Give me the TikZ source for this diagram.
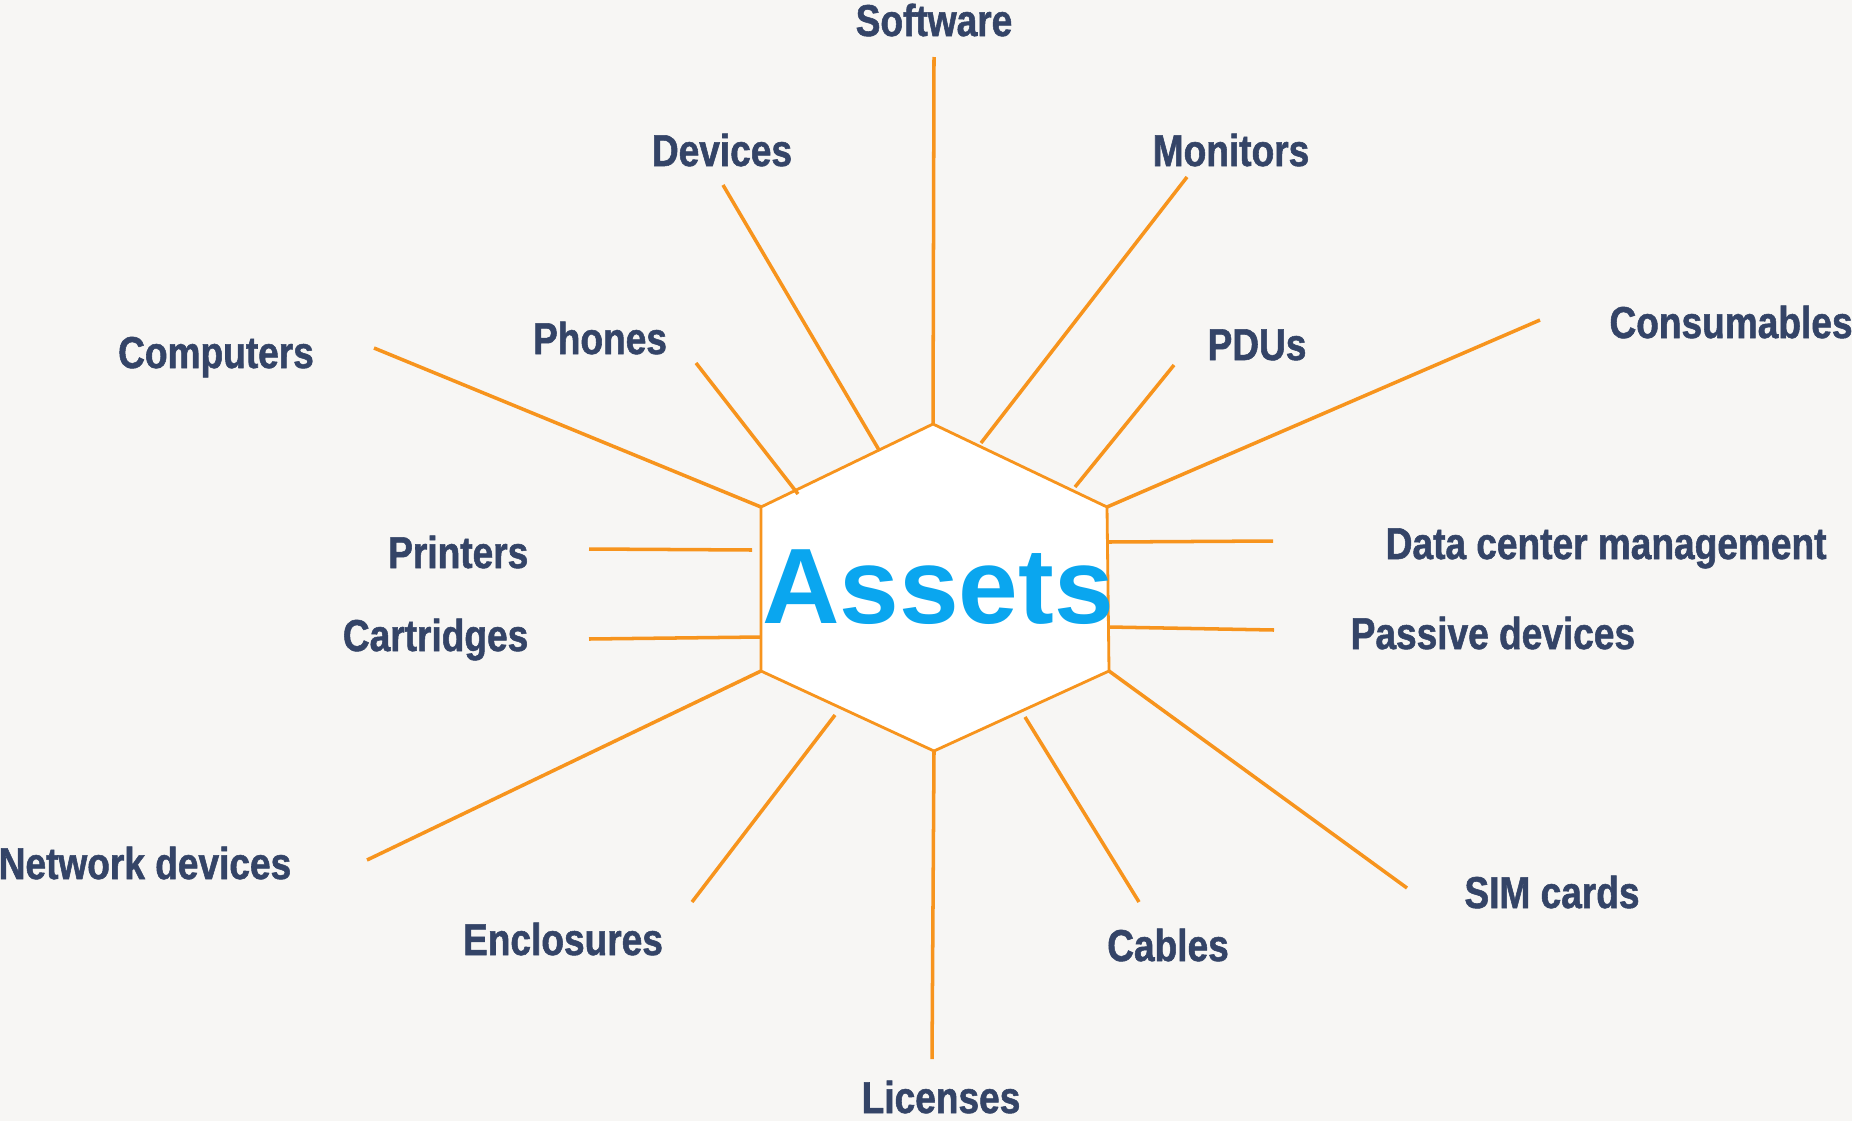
\documentclass[tikz,border=0pt]{standalone}
\usepackage{fontspec}
\setmainfont{Liberation Sans}
\newfontfamily\labelfont{Liberation Sans}[FakeStretch=0.83, BoldFeatures={FakeBold=1.2}]
\definecolor{spokeorange}{RGB}{247,148,29}
\definecolor{labelnavy}{RGB}{52,68,103}
\definecolor{assetblue}{RGB}{10,166,239}
\definecolor{paper}{RGB}{247,246,244}
\tikzset{
  spoke/.style={draw=spokeorange, line width=1pt},
  item/.style={text=labelnavy, font=\labelfont\bfseries\fontsize{12.7}{14}\selectfont,
    inner sep=0pt, text height=0.32cm, text depth=0cm},
}
\begin{document}
\begin{tikzpicture}[x=0.01cm, y=-0.01cm]
        \fill[paper] (0,0) rectangle (1852,1121);
        \useasboundingbox (0,0) rectangle (1852,1121);

        % hexagon corners
        \coordinate (ht) at (933,424);
        \coordinate (hur) at (1107,507);
        \coordinate (hlr) at (1109,671);
        \coordinate (hb) at (934,751);
        \coordinate (hll) at (761,671);
        \coordinate (hul) at (761,507);
        \filldraw[fill=white, draw=spokeorange, line width=0.8pt]
          (ht) -- (hur) -- (hlr) -- (hb) -- (hll) -- (hul) -- cycle;
        \node[text=assetblue, font=\bfseries\fontsize{30.5}{34}\selectfont,
          inner sep=0pt, text height=0.77cm, text depth=0cm] (assets) at (938,585) {Assets};

        % labels
        \node[item] (software) at (934,20) {Software};
        \node[item] (devices) at (722,150) {Devices};
        \node[item] (monitors) at (1231,150) {Monitors};
        \node[item] (computers) at (216,352) {Computers};
        \node[item] (phones) at (600,338) {Phones};
        \node[item] (pdus) at (1257,344) {PDUs};
        \node[item] (consumables) at (1731,322) {Consumables};
        \node[item, anchor=east] (printers) at (529,552) {Printers};
        \node[item, anchor=east] (cartridges) at (529,635) {Cartridges};
        \node[item, anchor=west] (datacenter) at (1385,543) {Data center management};
        \node[item, anchor=west] (passive) at (1350,633) {Passive devices};
        \node[item] (network) at (145,863) {Network devices};
        \node[item] (enclosures) at (563,939) {Enclosures};
        \node[item] (licenses) at (941,1097) {Licenses};
        \node[item] (cables) at (1168,945) {Cables};
        \node[item] (simcards) at (1552,892) {SIM cards};

        % spoke ends
        \coordinate (s1) at (934,57);    \coordinate (e1) at (933,424);
        \coordinate (s2) at (723,185);   \coordinate (e2) at (879,450);
        \coordinate (s3) at (1187,177);  \coordinate (e3) at (981,443);
        \coordinate (s4) at (374,348);   \coordinate (e4) at (761,507);
        \coordinate (s5) at (696,363);   \coordinate (e5) at (798,494);
        \coordinate (s6) at (1174,365);  \coordinate (e6) at (1075,487);
        \coordinate (s7) at (1540,320);  \coordinate (e7) at (1107,507);
        \coordinate (s8) at (589,549);   \coordinate (e8) at (752,550);
        \coordinate (s9) at (589,639);   \coordinate (e9) at (761,637);
        \coordinate (s10) at (1273,541); \coordinate (e10) at (1109,542);
        \coordinate (s11) at (1274,630); \coordinate (e11) at (1109,627);
        \coordinate (s12) at (367,860);  \coordinate (e12) at (761,671);
        \coordinate (s13) at (692,902);  \coordinate (e13) at (835,715);
        \coordinate (s14) at (932,1059); \coordinate (e14) at (934,751);
        \coordinate (s15) at (1139,902); \coordinate (e15) at (1025,717);
        \coordinate (s16) at (1407,888); \coordinate (e16) at (1109,671);
        \foreach \i in {1,...,16}{
          \draw[spoke] (s\i) -- (e\i);
        }

      \end{tikzpicture}
\end{document}
